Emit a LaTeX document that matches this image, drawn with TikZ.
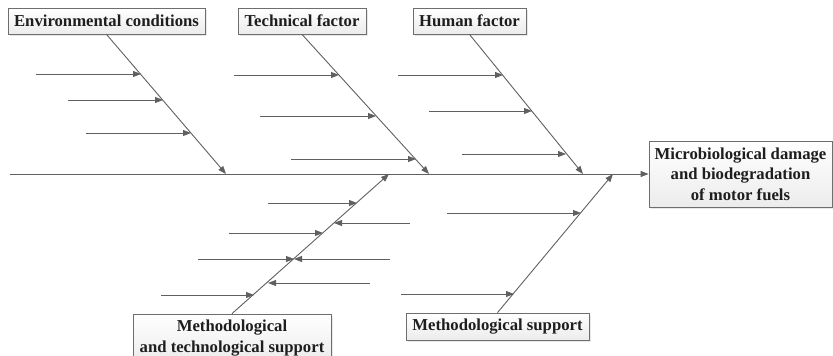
\documentclass[tikz,border=0pt]{standalone}
\usepackage{fontspec}
\setmainfont{Liberation Serif}
\usetikzlibrary{arrows.meta,shadows}
\definecolor{linegray}{RGB}{96,96,96}
\definecolor{boxgray}{RGB}{110,110,110}
\definecolor{textdark}{RGB}{30,30,30}
\begin{document}
\begin{tikzpicture}[x=1pt,y=-1pt,
  line/.style={draw=linegray, line width=0.9pt},
  arr/.style={line, -{Triangle[length=8pt,width=6pt]}},
  cat/.style={draw=boxgray, line width=0.8pt, top color=white, bottom color=gray!15,
    drop shadow={shadow xshift=1.5pt, shadow yshift=-1.5pt, fill=gray!35},
    font=\fontsize{16.7}{20.5}\selectfont\bfseries, text=textdark, inner sep=0pt, align=center},
]
\useasboundingbox (0,0) rectangle (833,356);
\clip (0,0) rectangle (833,356);

% category boxes
\node[cat, minimum width=197, minimum height=26] (env) at (106.5,21) {Environmental conditions};
\node[cat, minimum width=128, minimum height=26] (tech) at (302,21) {Technical factor};
\node[cat, minimum width=113, minimum height=26] (hum) at (469.5,21) {Human factor};
\node[cat, minimum width=198, minimum height=48] (mts) at (232,338) {Methodological\\and technological support};
\node[cat, minimum width=183, minimum height=27] (ms) at (497.5,326.5) {Methodological support};
\node[cat, minimum width=183, minimum height=66] (eff) at (740.5,174) {Microbiological damage\\and biodegradation\\of motor fuels};

% spine
\coordinate (s0) at (10,174);
\draw[arr] (s0) -- (eff.west);

% branch endpoints on spine
\coordinate (envS) at (226,174);
\coordinate (techS) at (429,174);
\coordinate (humS) at (583,174);
\coordinate (mtsS) at (389,174);
\coordinate (msS) at (613,174);

\draw[arr] (env.south) -- (envS);
\draw[arr] (tech.south) -- (techS);
\draw[arr] (hum.south) -- (humS);
\draw[arr] (mts.north) -- (mtsS);
\draw[arr] (ms.north) -- (msS);

% causes
\foreach \n/\xa/\xb/\yy in {
  e1/36/141/74, e2/68/163/100, e3/86/191/133,
  t1/234/339/75, t2/260/376/116, t3/291/416/159,
  h1/398/503/75, h2/429/532/111, h3/462/566/154,
  m1/268/357/203, m2/410/334/223, m3/229/323/233, m4/198/294/259,
  m5/390/294/259, m6/370/268/283, m7/161/254/295,
  s1/447/581/213, s2/401/514/294} {
  \coordinate (\n a) at (\xa,\yy);
  \coordinate (\n b) at (\xb,\yy);
  \draw[arr] (\n a) -- (\n b);
}
\end{tikzpicture}
\end{document}
